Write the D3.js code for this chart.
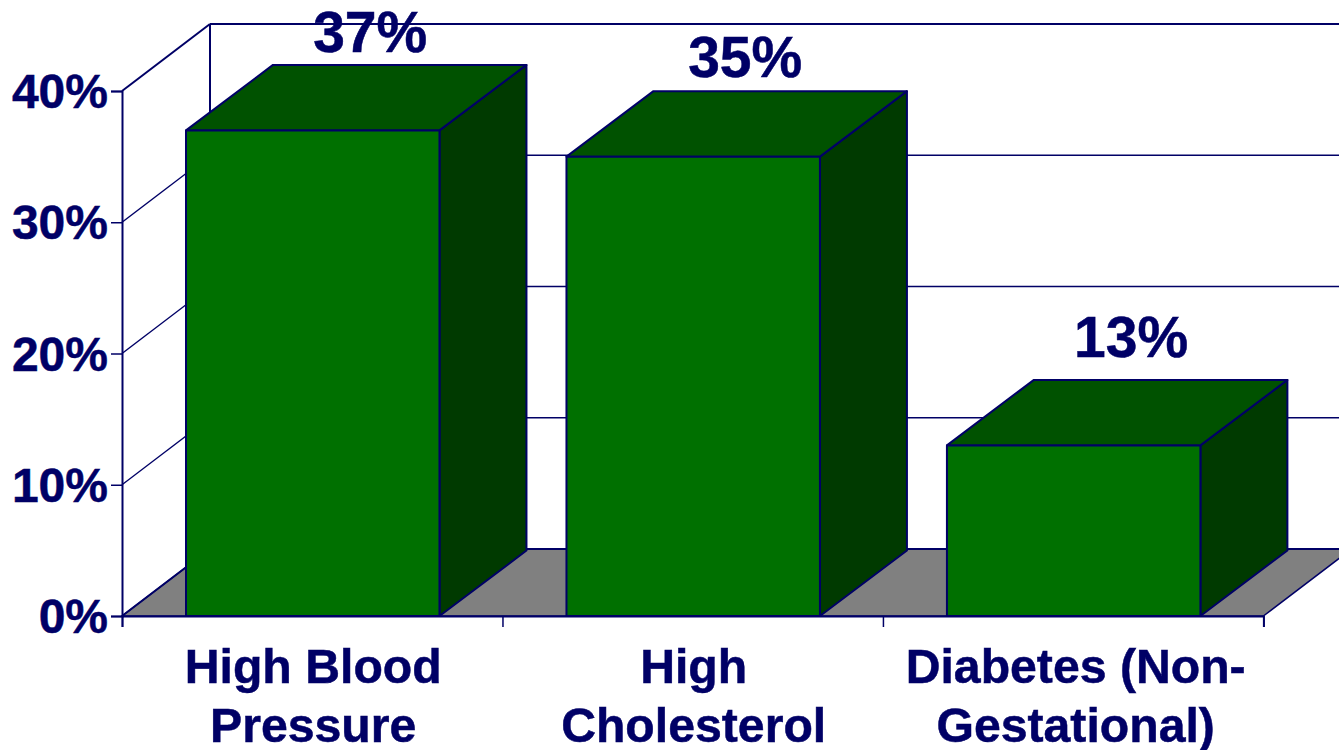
<!DOCTYPE html>
<html><head><meta charset="utf-8">
<script src="https://cdn.jsdelivr.net/npm/d3@7/dist/d3.min.js"></script>
<style>html,body{margin:0;padding:0;background:#fff;overflow:hidden}svg{display:block}text{font-family:"Liberation Sans",Arial,sans-serif;font-weight:700;fill:#000066;stroke:#000066;stroke-width:0.5px}</style>
</head><body><svg id="c" width="1339" height="750"></svg>
<script>
const categories = [["High Blood","Pressure"],["High","Cholesterol"],["Diabetes (Non-","Gestational)"]];
const values = [37,35,13];
const valueLabels = ["37%","35%","13%"];
const yTicks = [0,10,20,30,40];
const ink="#000066", front="#007000", top_="#005200", side="#003a00", floor="#808080";
const dx=88, dy=-67, bdx=87, bdy=-65.5;
// hand-placed value label offsets from the bar's front top edge, as in the original
const labelDx=[58,52.5,58], labelDy=[78.7,79.3,88.7];
const svg=d3.select("#c");
const y=d3.scaleLinear().domain([0,40]).range([616,91]);
const x=d3.scaleBand().domain(d3.range(categories.length)).range([122,1263.4]).paddingInner(0).paddingOuter(0);
const insetL=64, insetR=63;
const poly=(pts,fill,sw)=>svg.append("polygon").attr("points",pts.map(p=>p.join(",")).join(" ")).attr("fill",fill).attr("stroke",ink).attr("stroke-width",sw).attr("stroke-linejoin","round");
const line=(a,b,c,sw)=>svg.append("line").attr("x1",a).attr("y1",b).attr("x2",c[0]).attr("y2",c[1]).attr("stroke",ink).attr("stroke-width",sw);
const x0=x.range()[0], x1=x.range()[1];
// floor
poly([[x0,y(0)],[x0+dx,y(0)+dy],[x1+dx,y(0)+dy],[x1,y(0)]],floor,1.5);
// walls and gridlines
yTicks.forEach(t=>{
  line(x0,y(t),[x0+dx,y(t)+dy],t===0||t===40?2:1.4);
  line(x0+dx,y(t)+dy,[x1+dx,y(t)+dy],t===0||t===40?2:1.4);
});
line(x0+dx,y(0)+dy,[x0+dx,y(40)+dy],2);
// y axis
const ya=svg.append("g").attr("transform",`translate(${x0},0)`).call(d3.axisLeft(y).tickValues(yTicks).tickSize(11).tickPadding(3).tickFormat(d=>d+"%"));
ya.select(".domain").attr("stroke",ink).attr("stroke-width",2);
ya.selectAll(".tick line").attr("stroke",ink).attr("stroke-width",1.5);
ya.selectAll(".tick text").attr("font-size",48).attr("fill",ink).attr("dy","16.5px").style("font-family",'"Liberation Sans"').style("font-weight",700);
// x axis
const xa=svg.append("g").attr("transform",`translate(0,${y(0)})`).call(d3.axisBottom(d3.scaleLinear().domain([0,categories.length]).range([x0,x1])).tickValues(d3.range(categories.length+1)).tickSize(11).tickFormat(""));
xa.select(".domain").attr("stroke",ink).attr("stroke-width",2);
xa.selectAll(".tick line").attr("stroke",ink).attr("stroke-width",1.5);
// bars
values.forEach((v,i)=>{
  const l=x(i)+insetL, r=x(i)+x.bandwidth()-insetR, t=y(v), b=y(0);
  poly([[r,b],[r+bdx,b+bdy],[r+bdx,t+bdy],[r,t]],side,2);
  poly([[l,t],[l+bdx,t+bdy],[r+bdx,t+bdy],[r,t]],top_,2);
  poly([[l,t],[r,t],[r,b],[l,b]],front,2);
  const cx=x(i)+x.bandwidth()/2;
  svg.append("text").attr("x",cx+labelDx[i]).attr("y",t-labelDy[i]).attr("text-anchor","middle").attr("font-size",57).text(valueLabels[i]);
  categories[i].forEach((s,j)=>svg.append("text").attr("x",cx+1+(i===2?1.5:0)).attr("y",682.7+j*59).attr("text-anchor","middle").attr("font-size",48.2).text(s));
});
</script></body></html>
